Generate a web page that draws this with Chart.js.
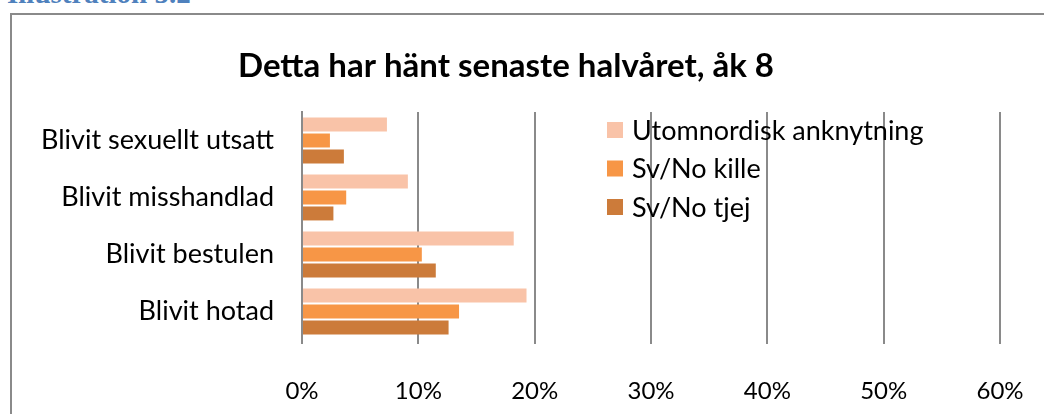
<!DOCTYPE html>
<html>
<head>
<meta charset="utf-8">
<script src="https://cdn.jsdelivr.net/npm/chart.js@4/dist/chart.umd.min.js"></script>
<style>
  html, body { margin: 0; padding: 0; background: #fff; overflow: hidden; }
  #wrap { position: relative; width: 1044px; height: 414px; overflow: hidden; }
  #caption {
    position: absolute; left: 7px; top: -23px; line-height: 1;
    font: bold 29px "Liberation Serif", serif; color: #4f81bd; white-space: nowrap;
  }
  #box {
    position: absolute; left: 10px; top: 13px; width: 1100px; height: 500px;
    border: 2px solid #8a8a8a; box-sizing: border-box;
  }
  #chart { position: absolute; left: 0; top: 0; }
</style>
</head>
<body>
<div id="wrap">
  <div id="caption">Illustration 5.2</div>
  <div id="box"></div>
  <canvas id="chart" width="1044" height="414"></canvas>
</div>
<script>
  // data (percent)
  var categories = ['Blivit sexuellt utsatt', 'Blivit misshandlad', 'Blivit bestulen', 'Blivit hotad'];
  var seriesNames = ['Utomnordisk anknytning', 'Sv/No kille', 'Sv/No tjej'];
  var utomnordisk = [7.3, 9.1, 18.2, 19.3];
  var svNoKille = [2.4, 3.8, 10.3, 13.5];
  var svNoTjej = [3.6, 2.7, 11.5, 12.6];
  var xTicks = [0, 10, 20, 30, 40, 50, 60];

  var colors = ['#f9c3a8', '#f79646', '#cc7b3a'];
  var gridColor = '#8a8a8a';
  var font = 'Lato, "Open Sans", sans-serif';

  // legend drawn over the plot, like the original
  var overlayLegend = {
    id: 'overlayLegend',
    afterDatasetsDraw: function (chart) {
      var ctx = chart.ctx;
      ctx.save();
      ctx.font = '27px ' + font;
      ctx.textBaseline = 'middle';
      ctx.textAlign = 'left';
      chart.data.datasets.forEach(function (ds, i) {
        var y = 130 + i * 38.5;
        ctx.fillStyle = ds.backgroundColor;
        ctx.fillRect(607, y - 8, 16, 16);
        ctx.fillStyle = '#000';
        ctx.fillText(ds.label, 632, y + 1);
      });
      ctx.restore();
    }
  };

  var data = {
    labels: categories,
    datasets: [
      { label: seriesNames[0], data: utomnordisk, backgroundColor: colors[0] },
      { label: seriesNames[1], data: svNoKille, backgroundColor: colors[1] },
      { label: seriesNames[2], data: svNoTjej, backgroundColor: colors[2] }
    ]
  };

  new Chart(document.getElementById('chart'), {
    type: 'bar',
    data: data,
    plugins: [overlayLegend],
    options: {
      indexAxis: 'y',
      responsive: false,
      animation: false,
      layout: { padding: { left: 12, right: 44, top: 0, bottom: 0 } },
      datasets: {
        bar: { categoryPercentage: 0.84, barPercentage: 0.875 }
      },
      plugins: {
        legend: { display: false },
        tooltip: { enabled: false },
        title: {
          display: true,
          text: 'Detta har hänt senaste halvåret, åk 8',
          color: '#000',
          font: { family: font, size: 33, weight: 'bold', lineHeight: 1.2 },
          padding: { top: 47, bottom: 25.4 }
        }
      },
      scales: {
        x: {
          min: 0,
          max: 60,
          afterBuildTicks: function (axis) {
            axis.ticks = xTicks.map(function (v) { return { value: v }; });
          },
          afterFit: function (axis) {
            axis.height = 74;
            axis.paddingLeft = 0;
            axis.paddingRight = 0;
          },
          grid: { color: gridColor, lineWidth: 2, tickLength: 4, drawTicks: true },
          border: { display: false },
          ticks: {
            color: '#000',
            padding: 33,
            maxRotation: 0,
            font: { family: font, size: 24 },
            callback: function (v) { return v + '%'; }
          }
        },
        y: {
          afterFit: function (axis) { axis.width = 290; },
          grid: { display: false, drawTicks: false },
          border: { display: true, color: gridColor, width: 2 },
          ticks: {
            color: '#000',
            padding: 28,
            font: { family: font, size: 27 }
          }
        }
      }
    }
  });
</script>
</body>
</html>
